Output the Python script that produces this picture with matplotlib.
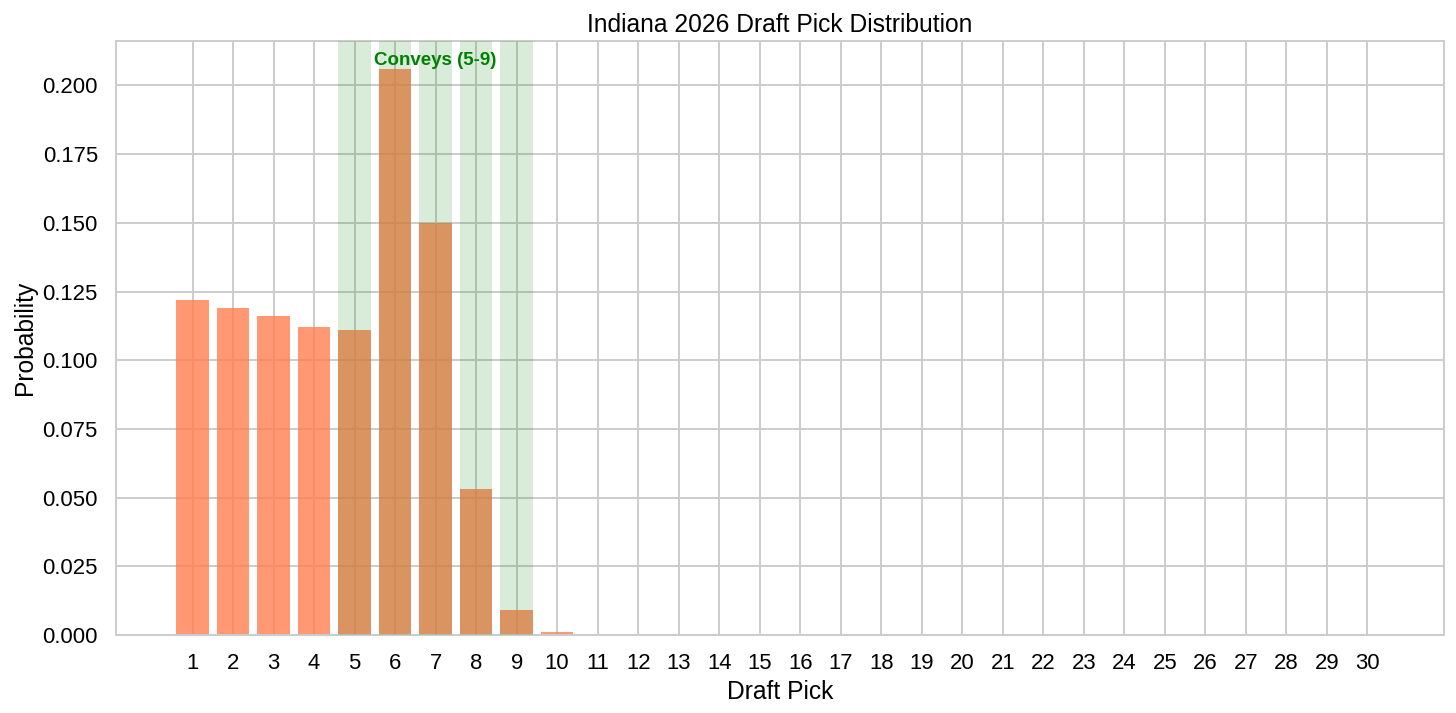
import matplotlib
matplotlib.use("Agg")
import matplotlib.pyplot as plt
import seaborn as sns
import numpy as np

picks = list(range(1, 31))
probabilities = [0.122, 0.119, 0.116, 0.112, 0.111, 0.206, 0.150, 0.053, 0.009, 0.001] + [0.0] * 20
convey_picks = [5, 6, 7, 8, 9]
title = "Indiana 2026 Draft Pick Distribution"
xlabel = "Draft Pick"
ylabel = "Probability"
annotation = "Conveys (5-9)"

sns.set_theme(style="whitegrid")
plt.rcParams['font.family'] = ['Liberation Sans', 'DejaVu Sans']
plt.rcParams['text.color'] = 'black'
plt.rcParams['axes.labelcolor'] = 'black'
plt.rcParams['xtick.color'] = 'black'
plt.rcParams['ytick.color'] = 'black'

fig = plt.figure(figsize=(14.56, 7.13), dpi=100)
ax = fig.add_axes([116/1456, 1 - 635/713, (1444-116)/1456, (635-40.7)/713])

ax.bar(picks, probabilities, width=0.8, color='coral', alpha=0.8, zorder=2, linewidth=0)
for p in convey_picks:
    ax.axvspan(p - 0.4, p + 0.4, color='green', alpha=0.15, zorder=3, lw=0)

ax.text(7, max(probabilities), annotation, ha='center', va='bottom',
        color='green', fontweight='bold', fontsize=13.5, zorder=4)

ax.set_xticks(picks)
ax.set_xticklabels([str(p) for p in picks])
ax.set_title(title, fontsize=17.7, color='black')
ax.set_xlabel(xlabel, fontsize=17.7)
ax.set_ylabel(ylabel, fontsize=17.7)
ax.tick_params(axis='both', labelsize=15.9, pad=7, colors='black')
ax.grid(True, color='#cccccc', linewidth=1.4)
for s in ax.spines.values():
    s.set_color('#cccccc')
    s.set_linewidth(1.4)

fig.savefig("out.png", dpi=100)
